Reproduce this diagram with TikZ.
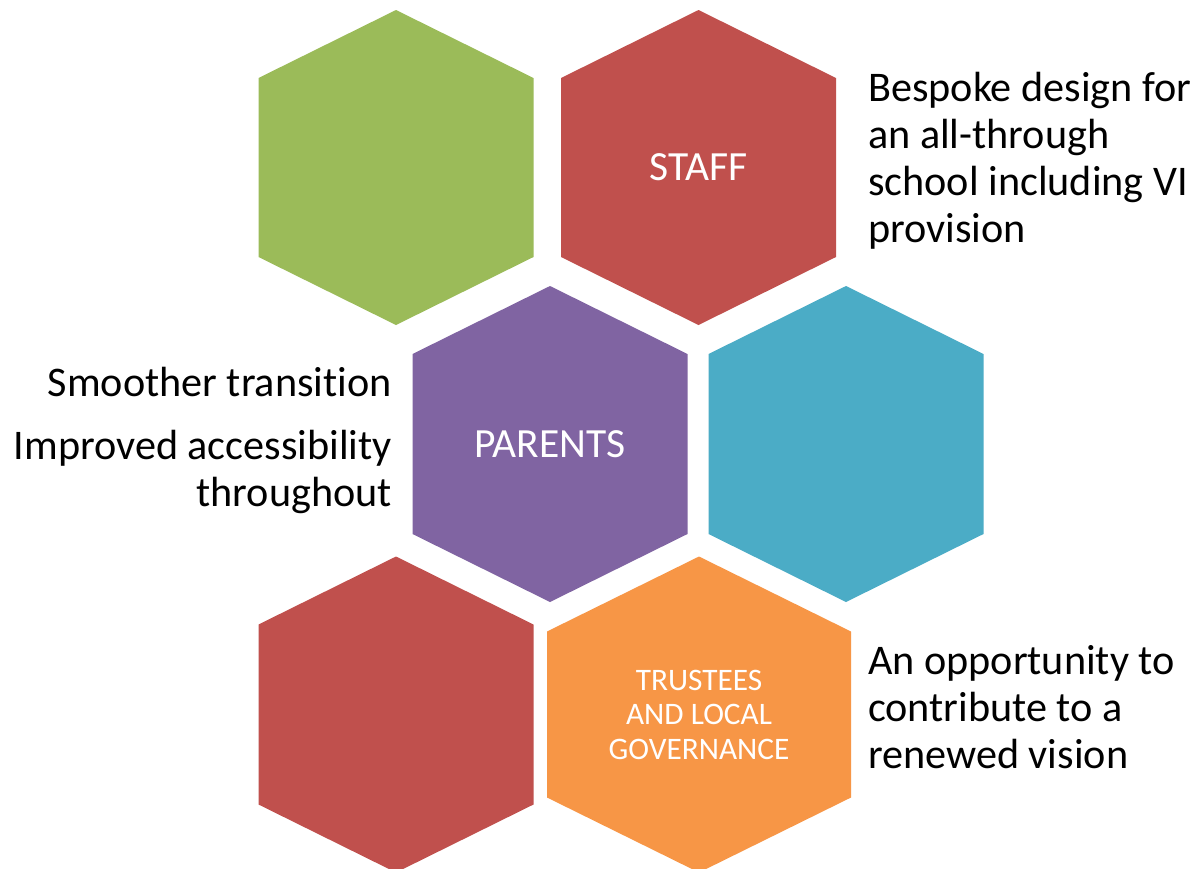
\documentclass[tikz,border=0pt]{standalone}
\usepackage{fontspec}
\setmainfont{Carlito}[Ligatures=CommonOff]
\definecolor{hgreen}{HTML}{9BBB59}
\definecolor{hred}{HTML}{C0504D}
\definecolor{hpurple}{HTML}{8064A2}
\definecolor{hcyan}{HTML}{4BACC6}
\definecolor{horange}{HTML}{F79646}
% #1 centre x, #2 centre y, #3 half width, #4 half height, #5 corner drop, #6 colour
\newcommand\hexshape[6]{%
  \fill[#6] (#1,#2-#4) -- (#1+#3,#2-#4+#5) -- (#1+#3,#2+#4-#5) -- (#1,#2+#4)
     -- (#1-#3,#2+#4-#5) -- (#1-#3,#2-#4+#5) -- cycle;}
\begin{document}
\begin{tikzpicture}[x=1pt,y=-1pt,
  bodytext/.style={font=\fontsize{42.2}{47}\selectfont, text=black, inner sep=0pt},
  hexlabel/.style={font=\fontsize{41.5}{47}\selectfont, text=white, inner sep=0pt},
  smalllabel/.style={font=\fontsize{31.3}{34.5}\selectfont, text=white, inner sep=0pt, align=center}]
\useasboundingbox[fill=white] (0,0) rectangle (1197,868);
\hexshape{396}{167.5}{137.5}{157.5}{68}{hgreen}
\hexshape{698.5}{167.5}{137.5}{157.5}{68}{hred}
\hexshape{550}{444}{137.5}{158}{68}{hpurple}
\hexshape{846}{444}{137.5}{158}{68}{hcyan}
\hexshape{396}{714.5}{137.5}{158}{68}{hred}
\hexshape{699}{714.5}{152}{158}{75}{horange}
\node[hexlabel] (staff) at (698.5,167) {STAFF};
\node[hexlabel] (parents) at (550,444) {PARENTS};
\node[smalllabel] (trustees) at (699,714.5) {TRUSTEES\\AND LOCAL\\GOVERNANCE};
\node[bodytext, anchor=base west] (b1) at (868,101) {Bespoke design for};
\node[bodytext, anchor=base west] (b2) at (868,148) {an all-through};
\node[bodytext, anchor=base west] (b3) at (868,195) {school including VI};
\node[bodytext, anchor=base west] (b4) at (868,242) {provision};
\node[bodytext, anchor=base east] (s1) at (392,396) {Smoother transition};
\node[bodytext, anchor=base east] (s2) at (392,459) {Improved accessibility};
\node[bodytext, anchor=base east] (s3) at (392,506) {throughout};
\node[bodytext, anchor=base west] (o1) at (868,674) {An opportunity to};
\node[bodytext, anchor=base west] (o2) at (868,721) {contribute to a};
\node[bodytext, anchor=base west] (o3) at (868,768) {renewed vision};
\end{tikzpicture}
\end{document}
